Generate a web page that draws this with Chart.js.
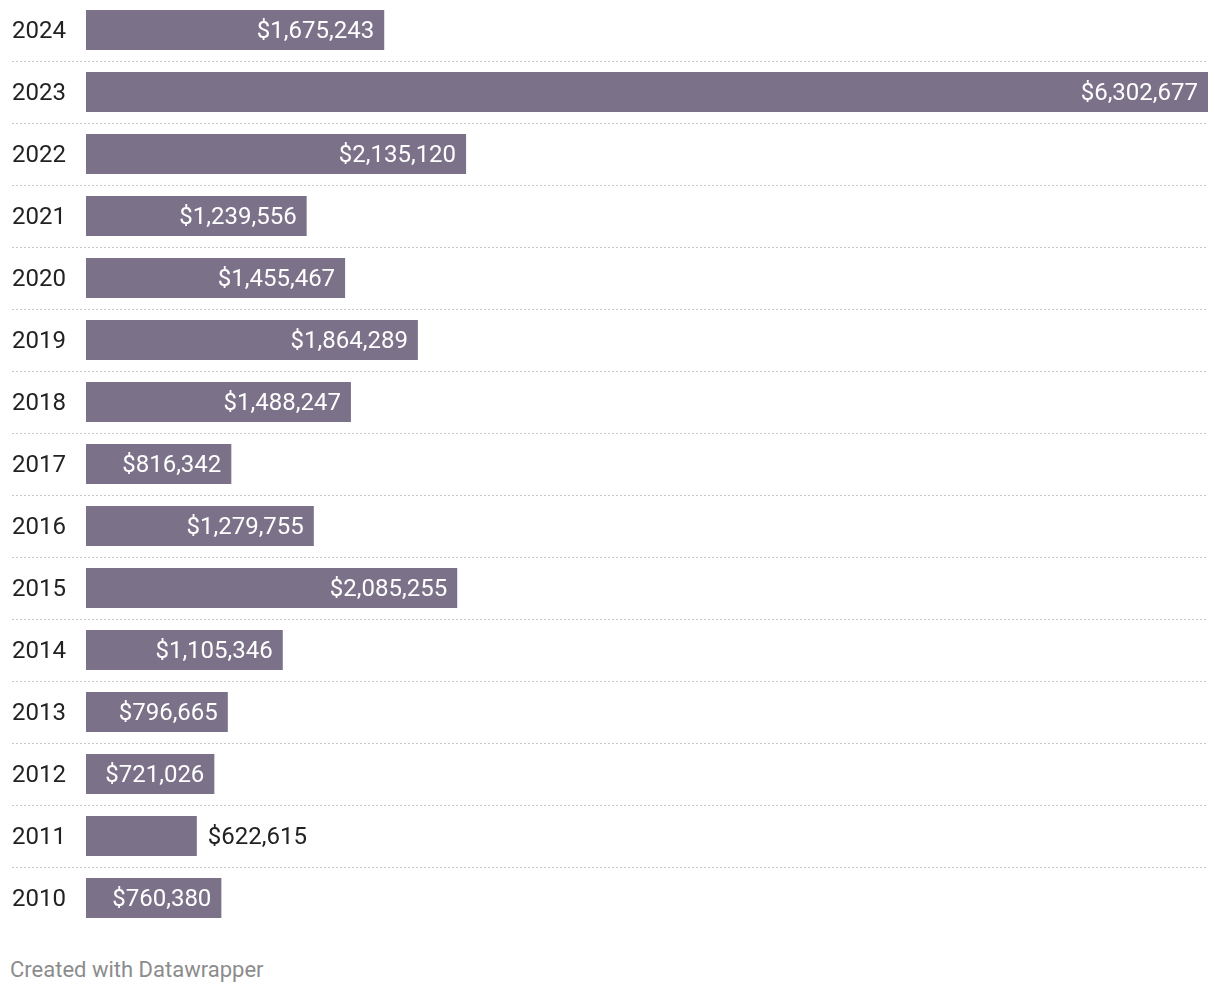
<!DOCTYPE html>
<html>
<head>
<meta charset="utf-8">
<script src="https://cdn.jsdelivr.net/npm/chart.js@4/dist/chart.umd.min.js"></script>
<style>
  html, body { margin: 0; padding: 0; background: #fff; }
  #wrap { position: relative; width: 1220px; height: 994px; overflow: hidden; }
  #box { position: absolute; left: 0; top: -1px; width: 1220px; height: 930px; }
  #credit { position: absolute; left: 10px; top: 957px; font-family: Roboto, sans-serif; font-size: 22px; color: #8c8c8c; }
</style>
</head>
<body>
<div id="wrap">
  <div id="box"><canvas id="chart"></canvas></div>
  <div id="credit">Created with Datawrapper</div>
</div>
<script>
const years = ["2024", "2023", "2022", "2021", "2020", "2019", "2018", "2017", "2016", "2015", "2014", "2013", "2012", "2011", "2010"];
const amounts = [1675243, 6302677, 2135120, 1239556, 1455467, 1864289, 1488247, 816342, 1279755, 2085255, 1105346, 796665, 721026, 622615, 760380];

const barColor = "#7b7189";
const fontFamily = "Roboto, sans-serif";

function money(v) {
  return "$" + v.toLocaleString("en-US");
}

// dotted separators between rows, from the label column to the right edge
const separators = {
  id: "separators",
  beforeDatasetsDraw(chart) {
    const ctx = chart.ctx;
    const y = chart.scales.y;
    const area = chart.chartArea;
    ctx.save();
    ctx.strokeStyle = "#c8c8c8";
    ctx.lineWidth = 1;
    ctx.setLineDash([2, 2]);
    for (let i = 0; i < years.length - 1; i++) {
      const mid = Math.round((y.getPixelForValue(i) + y.getPixelForValue(i + 1)) / 2) + 0.5;
      ctx.beginPath();
      ctx.moveTo(12, mid);
      ctx.lineTo(area.right, mid);
      ctx.stroke();
    }
    ctx.restore();
  }
};

// value labels: inside the bar when it fits, otherwise just after it
const valueLabels = {
  id: "valueLabels",
  afterDatasetsDraw(chart) {
    const ctx = chart.ctx;
    const meta = chart.getDatasetMeta(0);
    ctx.save();
    ctx.font = "24px " + fontFamily;
    ctx.textBaseline = "middle";
    meta.data.forEach((bar, i) => {
      const text = money(amounts[i]);
      const w = ctx.measureText(text).width;
      const barW = bar.x - bar.base;
      if (w + 20 <= barW) {
        ctx.fillStyle = "#ffffff";
        ctx.textAlign = "right";
        ctx.fillText(text, bar.x - 10, bar.y + 2);
      } else {
        ctx.fillStyle = "#222222";
        ctx.textAlign = "left";
        ctx.fillText(text, bar.x + 11, bar.y + 2);
      }
    });
    ctx.restore();
  }
};

new Chart(document.getElementById("chart"), {
  type: "bar",
  data: {
    labels: years,
    datasets: [{
      data: amounts,
      backgroundColor: barColor,
      borderWidth: 0,
      categoryPercentage: 1,
      barPercentage: 40 / 62
    }]
  },
  options: {
    indexAxis: "y",
    responsive: true,
    maintainAspectRatio: false,
    animation: false,
    layout: { padding: { left: 12, right: 12, top: 0, bottom: 0 } },
    plugins: {
      legend: { display: false },
      tooltip: { enabled: false }
    },
    scales: {
      x: {
        display: false,
        min: 0,
        max: 6302677
      },
      y: {
        grid: { display: false },
        border: { display: false },
        ticks: {
          crossAlign: "far",
          padding: 0,
          labelOffset: 2,
          color: "#222222",
          font: { family: fontFamily, size: 24 }
        },
        afterFit(scale) {
          scale.width = 74;
          scale.paddingTop = 0;
          scale.paddingBottom = 0;
        }
      }
    }
  },
  plugins: [separators, valueLabels]
});
</script>
</body>
</html>
